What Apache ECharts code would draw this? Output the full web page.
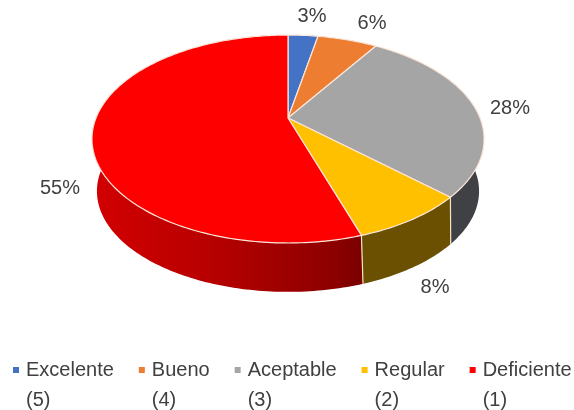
<!DOCTYPE html>
<html>
<head>
<meta charset="utf-8">
<style>html,body{margin:0;padding:0;background:#fff}#chart{width:574px;height:410px}</style>
<script src="https://cdn.jsdelivr.net/npm/echarts@6/dist/echarts.min.js"></script>
</head>
<body>
<div id="chart"></div>
<script>
// Survey answers, shown as a tilted 3D pie.
const categories = ['Excelente\n(5)', 'Bueno\n(4)', 'Aceptable\n(3)', 'Regular\n(2)', 'Deficiente\n(1)'];
const percentages = [3, 6, 28, 8, 55];
const faceColors = ['#4472c4', '#ed7d31', '#a5a5a5', '#ffc000', '#ff0000'];

// Perspective camera for the top face: hub position, radius, foreshortening, tilt.
const TOP = { x: 288, y: 118, radius: 192, depth: 75.9, tilt: -0.202 };
// The base face is further from the viewer, so it gets its own projection.
const BASE = { x: 288, y: 166, radius: 185, depth: 52.9, tilt: -0.25 };

const wallFills = [
  '#1f3864', '#843c0c', '#3f4144', '#6a5000',
  new echarts.graphic.LinearGradient(95, 0, 362, 0, [
    { offset: 0, color: '#d20000' },
    { offset: 0.45, color: '#b60000' },
    { offset: 0.9, color: '#8c0000' },
    { offset: 1, color: '#7a0000' }
  ], true)
];
// Label anchor for each slice, in page pixels.
const labelSpots = [[312, 16], [372, 23], [510, 108], [435, 287], [60, 188]];

const total = percentages.reduce((a, b) => a + b, 0);

function project(cam, turn) {
  const a = turn * 2 * Math.PI;
  const u = Math.sin(a), v = -Math.cos(a);
  const d = 1 + cam.tilt * v;
  return [cam.x + cam.radius * u / d, (cam.depth * v + cam.y) / d];
}
function arc(cam, from, to) {
  const pts = [];
  const steps = Math.max(2, Math.ceil((to - from) * 360));
  for (let i = 0; i <= steps; i++) pts.push(project(cam, from + (to - from) * i / steps));
  return pts;
}

function sliceRenderer(index) {
  return function () {
    const from = percentages.slice(0, index).reduce((a, b) => a + b, 0) / total;
    const to = from + percentages[index] / total;
    const rim = arc(TOP, from, to);
    const base = arc(BASE, from, to);
    const edgeTop = project(TOP, to), edgeBase = project(BASE, to);
    return {
      type: 'group',
      children: [
        {
          type: 'polygon', z2: 1, silent: true,
          shape: { points: rim.concat(base.slice().reverse()) },
          style: { fill: wallFills[index], stroke: null }
        },
        {
          type: 'line', z2: 2, silent: true,
          shape: { x1: edgeTop[0], y1: edgeTop[1], x2: edgeBase[0], y2: edgeBase[1] },
          style: { stroke: '#f3e6c8', lineWidth: 1.2, fill: null }
        },
        {
          type: 'polygon', z2: 10,
          shape: { points: [[TOP.x, TOP.y]].concat(rim) },
          style: { fill: faceColors[index], stroke: '#fbe6da', lineWidth: 1.2, lineJoin: 'round' }
        },
        {
          type: 'text', z2: 20, silent: true,
          x: labelSpots[index][0], y: labelSpots[index][1],
          style: {
            text: percentages[index] + '%',
            fill: '#404040',
            font: '20px "Liberation Sans", Arial, sans-serif',
            align: 'center', verticalAlign: 'middle'
          }
        }
      ]
    };
  };
}

const chart = echarts.init(document.getElementById('chart'), null, { renderer: 'canvas' });
chart.setOption({
  animation: false,
  backgroundColor: '#fff',
  legend: {
    left: 11,
    top: 355,
    width: 640,
    padding: 0,
    itemGap: 23,
    itemWidth: 10,
    itemHeight: 60,
    // Small square level with the first text line; the empty subpaths hold the icon box open.
    icon: 'path://M2 12H8V18H2Z M0 0L0 0Z M10 60L10 60Z',
    selectedMode: false,
    textStyle: {
      fontFamily: '"Liberation Sans", Arial, sans-serif',
      fontSize: 20,
      lineHeight: 30,
      color: '#404040'
    },
    data: categories
  },
  series: categories.map((name, i) => ({
    type: 'custom',
    name,
    coordinateSystem: 'none',
    itemStyle: { color: faceColors[i] },
    renderItem: sliceRenderer(i),
    data: [percentages[i]]
  }))
});
</script>
</body>
</html>
